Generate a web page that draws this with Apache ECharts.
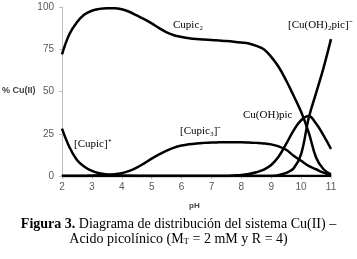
<!DOCTYPE html>
<html><head><meta charset="utf-8">
<script src="https://cdn.jsdelivr.net/npm/echarts@6/dist/echarts.min.js"></script>
<style>html,body{margin:0;padding:0;background:#fff}#c{width:357px;height:259px}</style>
</head><body><div id="c"></div>
<script>
var pH = [2,2.25,2.5,2.75,3,3.25,3.5,3.75,4,4.25,4.5,4.75,5,5.25,5.5,5.75,6,6.25,6.5,6.75,7,7.25,7.5,7.75,8,8.25,8.5,8.75,9,9.25,9.5,9.75,10,10.25,10.5,10.75,11];
var cupicPlus = [28,17,9.5,5.5,3,1.6,0.9,0.5,0.3,0.1,0,0,0,0,0,0,0,0,0,0,0,0,0,0,0,0,0,0,0,0,0,0,0,0,0,0,0];
var cupic2 = [72,84,91,95.5,97.8,98.9,99.3,99.3,98.7,97.2,95,92.8,90.3,87.5,85,83.3,82.3,81.5,81,80.7,80.5,80.2,79.9,79.5,79,78.4,77,75,70.5,64.5,56.5,47.5,38,26,11,4,1];
var cupic3 = [0,0,0,0,0.2,0.4,0.7,1,1.7,3,5,7.5,10.3,12.8,15,16.8,18,18.8,19.3,19.6,19.8,19.9,20,20,20,19.8,19.6,19.3,18.7,17.5,15.5,12,9,6,4,2,0.5];
var cuOHpic = [0,0,0,0,0,0,0,0,0,0,0,0,0,0,0,0,0,0,0,0,0,0,0,0.3,0.6,1.2,2.2,3.8,6.5,11.5,19,27,33,35.5,31,24,16];
var cuOH2pic = [0,0,0,0,0,0,0,0,0,0,0,0,0,0,0,0,0,0,0,0,0,0,0,0,0,0,0,0,0,0.5,1.8,4.5,13,34,49,64,81];
var yTicks = [0,25,50,75,100];
var xTicks = [2,3,4,5,6,7,8,9,10,11];

function pairs(v){return pH.map(function(x,i){return [x,v[i]];});}
var serif = '"Liberation Serif","Times New Roman",serif';
var sans = '"Liberation Sans",Arial,sans-serif';
function ser(v){return {type:'line',data:pairs(v),smooth:0.4,showSymbol:false,lineStyle:{color:'#000',width:2.5},z:3};}
var chart = echarts.init(document.getElementById('c'),null,{renderer:'canvas'});
chart.setOption({
  animation:false,
  grid:{left:62,right:26,top:7,bottom:83,containLabel:false},
  xAxis:{type:'value',min:2,max:11,interval:1,
    axisLine:{onZero:false,lineStyle:{color:'#000',width:1.5}},
    axisTick:{show:true,length:3,lineStyle:{color:'#bfbfbf'}},
    axisLabel:{color:'#595959',fontSize:10,fontFamily:sans,margin:6},
    splitLine:{show:false}},
  yAxis:{type:'value',min:0,max:100,interval:25,
    axisLine:{show:true,lineStyle:{color:'#bfbfbf',width:1}},
    axisTick:{show:true,length:3,lineStyle:{color:'#bfbfbf'}},
    axisLabel:{color:'#595959',fontSize:10,fontFamily:sans,margin:8},
    splitLine:{show:false}},
  series:[ser(cupicPlus),ser(cupic2),ser(cupic3),ser(cuOHpic),ser(cuOH2pic)],
  graphic:[
    {type:'text',left:2,top:86,style:{text:'% Cu(II)',font:'bold 9px '+sans,fill:'#404040'}},
    {type:'text',left:189,top:202,style:{text:'pH',font:'bold 8px '+sans,fill:'#404040'}},
    {type:'text',left:173,top:20,style:{text:'Cupic₂',font:'11px '+serif,fill:'#000'}},
    {type:'text',left:288,top:20,style:{text:'[Cu(OH)₂pic]⁻',font:'11px '+serif,fill:'#000'}},
    {type:'text',left:243,top:110,style:{text:'Cu(OH)pic',font:'11px '+serif,fill:'#000'}},
    {type:'text',left:180,top:126,style:{text:'[Cupic₃]⁻',font:'11px '+serif,fill:'#000'}},
    {type:'text',left:74,top:139,style:{text:'[Cupic]⁺',font:'11px '+serif,fill:'#000'}},
    {type:'text',left:'center',top:217,style:{rich:{b:{fontFamily:serif,fontSize:14,fontWeight:'bold',fill:'#000'},n:{fontFamily:serif,fontSize:14,fill:'#000'}},text:'{b|Figura 3.}{n| Diagrama de distribución del sistema Cu(II) –}'}},
    {type:'text',left:'center',top:232,style:{rich:{n:{fontFamily:serif,fontSize:14,fill:'#000'},s:{fontFamily:serif,fontSize:9,fill:'#000',padding:[6,0,0,0]}},text:'{n|Acido picolínico (M}{s|T}{n| = 2 mM y R = 4)}'}}
  ]
});
</script></body></html>
